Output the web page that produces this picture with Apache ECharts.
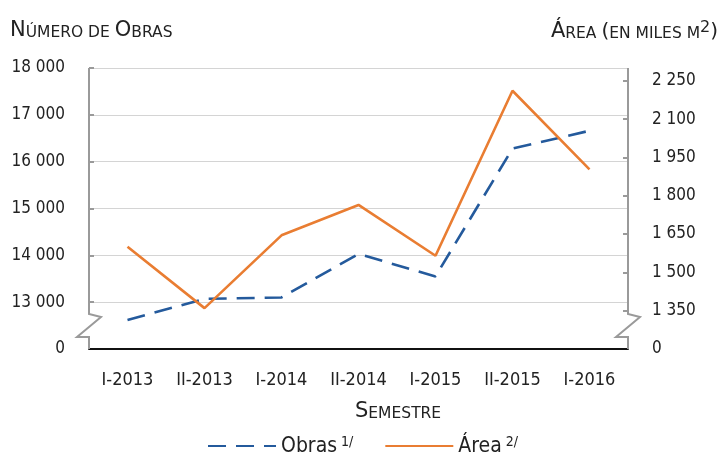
<!DOCTYPE html>
<html lang="es">
<head>
<meta charset="UTF-8">
<title>Obras y área por semestre</title>
<script src="https://cdn.jsdelivr.net/npm/echarts@6/dist/echarts.min.js"></script>
<style>html,body{margin:0;padding:0;background:#fff;}</style>
</head>
<body>
<div id="main" style="width:725px;height:456px;"></div>
<script>
// datos
var semestres = ['I-2013', 'II-2013', 'I-2014', 'II-2014', 'I-2015', 'II-2015', 'I-2016'];
var obras = [12620, 13070, 13100, 14030, 13550, 16280, 16660];
var area = [1600, 1360, 1645, 1764, 1565, 2211, 1903];
var ticksObras = [13000, 14000, 15000, 16000, 17000, 18000];
var ticksArea = [1350, 1500, 1650, 1800, 1950, 2100, 2250];

var GL = 89, GR = 97, GT = 68, GB = 107;
var FONT = 'DejaVu Sans Condensed';
var GRIS = '#9a9a9a';

function miles(v) {
    return String(v).replace(/\B(?=(\d{3})+(?!\d))/g, ' ');
}

var myChart = echarts.init(document.getElementById('main'));

// versalitas para los títulos
var caps = {
    L: { fontFamily: 'DejaVu Sans', fontWeight: 'normal', fontSize: 21, color: '#222', verticalAlign: 'bottom' },
    s: { fontFamily: 'DejaVu Sans', fontWeight: 'normal', fontSize: 15.5, color: '#222', verticalAlign: 'bottom' },
    p: { fontFamily: 'DejaVu Sans', fontWeight: 'normal', fontSize: 20, color: '#222', verticalAlign: 'bottom' },
    sup: { fontFamily: 'DejaVu Sans', fontWeight: 'normal', fontSize: 16, color: '#222', verticalAlign: 'top', padding: [0, 0, 6, 0] }
};

var option = {
    animation: false,
    title: [
        { text: '{L|N}{s|ÚMERO DE }{L|O}{s|BRAS}', left: 5, top: 15, textStyle: { fontWeight: 'normal', rich: caps } },
        { text: '{L|Á}{s|REA }{p|(}{s|EN MILES M}{sup|2}{p|)}', right: 2, top: 15, textStyle: { fontWeight: 'normal', rich: caps } },
        { text: '{L|S}{s|EMESTRE}', left: 350, top: 396, textStyle: { fontWeight: 'normal', rich: caps } }
    ],
    grid: { left: GL, right: GR, top: GT, bottom: GB },
    legend: {
        left: 'center',
        top: 430,
        itemWidth: 68,
        itemHeight: 14,
        itemGap: 31,
        itemStyle: { opacity: 0 },
        data: ['Obras', 'Área'],
        formatter: function (name) {
            return name === 'Obras' ? '{a|Obras}{s| 1/}' : '{a|Área}{s| 2/}';
        },
        textStyle: {
            rich: {
                a: { fontFamily: FONT, fontSize: 21, color: '#222', verticalAlign: 'bottom' },
                s: { fontFamily: FONT, fontSize: 14, color: '#222', verticalAlign: 'top', padding: [0, 0, 8, 0] }
            }
        }
    },
    xAxis: {
        type: 'category',
        data: semestres,
        boundaryGap: true,
        axisLine: { lineStyle: { color: '#111', width: 2 } },
        axisTick: { inside: true, length: 6, lineStyle: { color: '#111', width: 2 } },
        axisLabel: { color: '#222', fontFamily: FONT, fontSize: 18, margin: 22 }
    },
    yAxis: [{
        type: 'value',
        min: 12000,
        max: 18000,
        interval: 1000,
        axisLine: { show: false },
        axisTick: { show: true, inside: true, length: 5, customValues: ticksObras, lineStyle: { color: GRIS, width: 2 } },
        axisLabel: {
            color: '#222', fontFamily: FONT, fontSize: 17, margin: 24,
            formatter: function (v) { return v === 12000 ? '0' : miles(v); }
        },
        splitLine: { lineStyle: { color: '#d4d4d4', width: 1.2 } }
    }, {
        type: 'value',
        min: 1200,
        max: 2300,
        interval: 150,
        axisLine: { show: false },
        axisTick: { show: true, inside: true, length: 5, customValues: ticksArea, lineStyle: { color: GRIS, width: 2 } },
        axisLabel: {
            color: '#222', fontFamily: FONT, fontSize: 17, margin: 24,
            customValues: [1200].concat(ticksArea),
            formatter: function (v) { return v === 1200 ? '0' : (v > 2250 ? '' : miles(v)); }
        },
        splitLine: { show: false }
    }],
    series: [{
        name: 'Obras',
        type: 'line',
        yAxisIndex: 0,
        symbol: 'none',
        data: obras,
        lineStyle: { color: '#245A9C', width: 2.6, type: [18, 10] },
        itemStyle: { color: '#245A9C' },
        z: 3
    }, {
        name: 'Área',
        type: 'line',
        yAxisIndex: 1,
        symbol: 'none',
        data: area,
        lineStyle: { color: '#E97D32', width: 2.6 },
        itemStyle: { color: '#E97D32' },
        z: 4
    }]
};

myChart.setOption(option);

// ejes verticales con el corte (zigzag)
var x0 = GL, x1 = 725 - GR;
var yTop = myChart.convertToPixel({ yAxisIndex: 0 }, 18000);
var yBot = myChart.convertToPixel({ yAxisIndex: 0 }, 12000);
function eje(x) {
    return [[x, yTop], [x, yBot - 35], [x + 12, yBot - 32], [x - 12, yBot - 12], [x, yBot - 12], [x, yBot]];
}
myChart.setOption({
    graphic: [
        { type: 'polyline', z: 50, shape: { points: eje(x0) }, style: { stroke: GRIS, lineWidth: 2, fill: null } },
        { type: 'polyline', z: 50, shape: { points: eje(x1) }, style: { stroke: GRIS, lineWidth: 2, fill: null } }
    ]
});
</script>
</body>
</html>
